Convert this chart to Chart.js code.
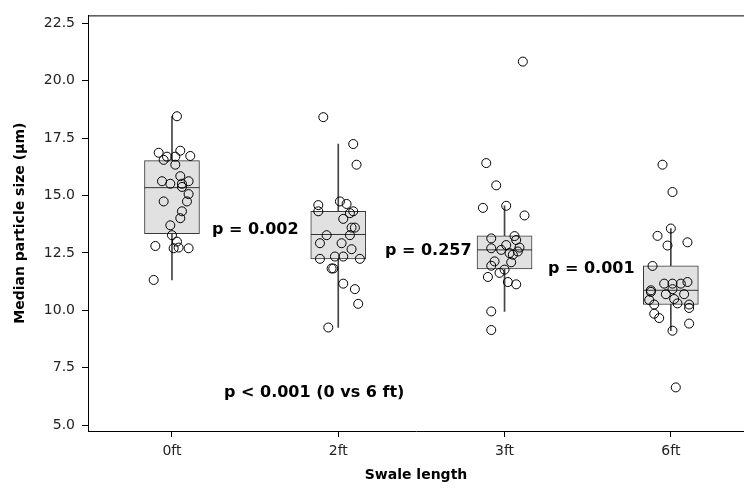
<!DOCTYPE html>
<html>
<head>
<meta charset="utf-8">
<script src="https://cdn.jsdelivr.net/npm/chart.js@4.4.1/dist/chart.umd.min.js"></script>
<style>
html,body{margin:0;padding:0;background:#fff;overflow:hidden;}
#wrap{width:744px;height:488px;position:relative;}
</style>
</head>
<body>
<div id="wrap"><canvas id="c" width="744" height="488"></canvas></div>
<script>
// ---- data ----
const categories = ['0ft', '2ft', '3ft', '6ft'];
const yTickValues = [5.0, 7.5, 10.0, 12.5, 15.0, 17.5, 20.0, 22.5];

const boxQ1      = [13.34, 12.24, 11.80, 10.25];
const boxMedian  = [15.34, 13.30, 12.63, 10.87];
const boxQ3      = [16.52, 14.31, 13.24, 11.93];
const whiskerLow = [11.32,  9.25,  9.95,  9.11];
const whiskerHigh= [18.45, 17.24, 14.55, 13.56];

const obs0ft = [18.45,16.86,16.95,16.69,16.55,16.69,16.72,16.34,15.84,15.62,15.51,15.62,15.37,15.51,15.06,14.74,14.74,14.31,14.01,13.70,13.27,12.99,12.80,12.70,12.73,12.70,11.32];
const jit0ft = [0.03,-0.08,0.05,-0.03,-0.05,0.02,0.11,0.02,0.05,-0.06,-0.01,0.10,0.06,0.06,0.10,-0.05,0.09,0.06,0.05,-0.01,0.00,0.03,-0.10,0.01,0.04,0.10,-0.11];

const obs2ft = [18.41,17.24,16.34,14.58,14.31,14.74,14.63,14.31,14.23,13.98,13.60,13.60,13.27,13.27,12.92,12.92,12.66,12.24,12.34,12.34,12.24,11.82,11.82,11.16,10.92,10.28,9.25];
const jit2ft = [-0.09,0.09,0.11,-0.12,-0.12,0.01,0.05,0.09,0.07,0.03,0.08,0.10,-0.07,0.07,-0.11,0.02,0.08,-0.11,-0.02,0.03,0.13,-0.04,-0.03,0.03,0.10,0.12,-0.06];

const obs3ft = [20.83,16.41,15.44,14.46,14.55,14.13,13.13,13.23,13.06,12.84,12.70,12.63,12.73,12.49,12.56,12.42,12.13,12.09,11.94,11.77,11.45,11.63,11.23,11.13,9.95,9.14];
const jit3ft = [0.11,-0.11,-0.05,-0.13,0.01,0.12,-0.08,0.06,0.07,0.01,-0.08,-0.02,0.09,0.03,0.08,0.05,-0.06,0.04,-0.08,0.00,-0.10,-0.03,0.02,0.07,-0.08,-0.08];

const obs6ft = [16.34,15.15,13.56,13.24,12.82,12.96,11.93,11.16,11.16,11.16,11.23,10.92,10.87,10.70,10.70,10.80,10.49,10.45,10.30,10.25,10.25,10.10,9.85,9.66,9.42,9.11,6.64];
const jit6ft = [-0.05,0.01,0.00,-0.08,-0.02,0.10,-0.11,-0.04,0.01,0.06,0.10,0.01,-0.12,-0.03,0.08,-0.12,0.02,-0.13,0.04,-0.10,0.11,0.11,-0.10,-0.07,0.11,0.01,0.03];

const pLabels = ['p = 0.002', 'p = 0.257', 'p = 0.001', 'p < 0.001 (0 vs 6 ft)'];

// ---- build ----
const groups = [[obs0ft, jit0ft], [obs2ft, jit2ft], [obs3ft, jit3ft], [obs6ft, jit6ft]];
const points = [];
groups.forEach((g, gi) => g[0].forEach((v, i) => points.push({x: gi + g[1][i], y: v})));

const FONT = "'DejaVu Sans', Verdana, sans-serif";

const annotPlugin = {
  id: 'annot',
  afterDatasetsDraw(chart, args, opts) {
    const {ctx, scales: {x, y}, chartArea} = chart;
    ctx.save();
    ctx.strokeStyle = '#000';
    ctx.lineWidth = 1;
    ctx.beginPath();
    ctx.moveTo(chartArea.left, chartArea.top + 0.5);
    ctx.lineTo(chartArea.right, chartArea.top + 0.5);
    ctx.stroke();
    ctx.fillStyle = '#000';
    ctx.font = 'bold 16px ' + FONT;
    ctx.textAlign = 'left';
    ctx.textBaseline = 'middle';
    opts.items.forEach((it, i) => {
      ctx.fillText(pLabels[i], x.getPixelForValue(it.x), y.getPixelForValue(it.y));
    });
    ctx.restore();
  }
};

new Chart(document.getElementById('c'), {
  type: 'bar',
  data: {
    datasets: [
      {
        type: 'scatter',
        data: points,
        pointRadius: 4.5,
        pointBorderWidth: 1,
        pointBorderColor: '#000',
        pointBackgroundColor: 'rgba(255,255,255,0)',
        pointStyle: 'circle'
      },
      {
        type: 'scatter',
        data: boxMedian.map((v, i) => ({x: i, y: v})),
        pointStyle: 'line',
        pointRadius: 27.5,
        pointBorderWidth: 1,
        pointBorderColor: '#333'
      },
      {
        data: boxQ1.map((v, i) => ({x: i, y: [v, boxQ3[i]]})),
        backgroundColor: '#e1e1e1',
        borderColor: '#3a3a3a',
        borderWidth: 1,
        borderSkipped: false,
        barThickness: 55,
        grouped: false
      },
      {
        data: whiskerLow.map((v, i) => ({x: i, y: [v, whiskerHigh[i]]})),
        backgroundColor: '#444',
        borderWidth: 0,
        barThickness: 1,
        grouped: false
      }
    ]
  },
  options: {
    responsive: false,
    animation: false,
    events: [],
    layout: {autoPadding: false, padding: {top: 8, left: 0, right: 0, bottom: 0}},
    plugins: {
      legend: {display: false},
      tooltip: {enabled: false},
      annot: {
        items: [
          {x: 0.2405, y: 13.51},
          {x: 1.281, y: 12.57},
          {x: 2.261, y: 11.80},
          {x: 0.313, y: 6.39}
        ]
      }
    },
    scales: {
      x: {
        type: 'linear',
        min: -0.505,
        max: 3.44,
        offset: false,
        afterBuildTicks: s => { s.ticks = categories.map((c, i) => ({value: i})); },
        afterFit: s => { s.height = 57; },
        grid: {display: true, offset: false, drawOnChartArea: false, drawTicks: true, tickLength: 6, color: '#000'},
        border: {display: true, color: '#000', width: 1},
        ticks: {
          padding: 6,
          color: '#222',
          font: {family: FONT, size: 14},
          autoSkip: false,
          maxRotation: 0,
          callback: v => categories[v]
        },
        title: {
          display: true,
          text: 'Swale length',
          color: '#000',
          font: {family: FONT, size: 14, weight: 'bold'},
          padding: {top: 0, bottom: 4}
        }
      },
      y: {
        type: 'linear',
        min: 4.742,
        max: 22.842,
        afterBuildTicks: s => { s.ticks = yTickValues.map(v => ({value: v})); },
        afterFit: s => { s.width = 88; },
        grid: {display: true, drawOnChartArea: false, drawTicks: true, tickLength: 6, color: '#000'},
        border: {display: true, color: '#000', width: 1},
        ticks: {
          padding: 7,
          color: '#222',
          font: {family: FONT, size: 14},
          callback: v => Number(v).toFixed(1)
        },
        title: {
          display: true,
          text: 'Median particle size (µm)',
          color: '#000',
          font: {family: FONT, size: 14, weight: 'bold'},
          padding: {top: 12, bottom: 0}
        }
      }
    }
  },
  plugins: [annotPlugin]
});
</script>
</body>
</html>
